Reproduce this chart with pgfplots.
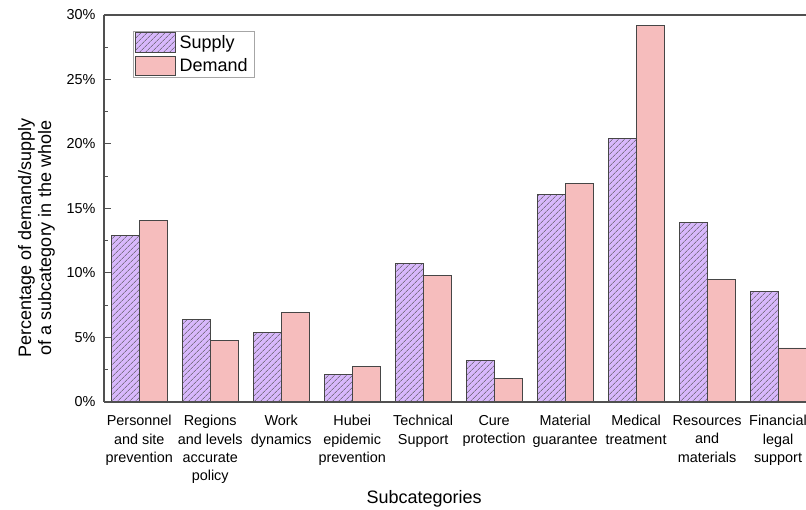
\documentclass[border=0pt]{standalone}
\usepackage{fontspec}
\setmainfont{Liberation Sans}
\usepackage{pgfplots}
\usepackage{pgfplotstable}
\pgfplotsset{compat=1.18}
\usetikzlibrary{patterns.meta}

\definecolor{supplyc}{RGB}{216,184,252}
\definecolor{demandc}{RGB}{246,189,189}
\definecolor{edgec}{RGB}{70,70,70}
\definecolor{axc}{RGB}{80,80,80}

\pgfplotsset{boxlegend/.style={
    legend image code/.code={\draw[##1] (0pt,-9.8pt) rectangle (39.4pt,9.8pt);}}}

% share (in %) of each subcategory
\pgfplotstableread{
x supply demand
0 12.9 14.1
1 6.43 4.78
2 5.37 6.92
3 2.12 2.76
4 10.75 9.79
5 3.22 1.83
6 16.12 16.92
7 20.43 29.17
8 13.95 9.48
9 8.57 4.19
}\subdata

\begin{document}
\begin{tikzpicture}
\begin{axis}[
    scale only axis,
    width=702pt, height=387pt,
    ybar=0pt, bar width=28pt,
    xmin=-0.497, xmax=9.394,
    ymin=0, ymax=30,
    axis on top,
    axis x line=box, axis y line=left,
    axis line style={-, draw=axc, line width=1.1pt},
    xtick={0,...,9},
    xticklabels={
        {Personnel\\and site\\prevention},
        {Regions\\and levels\\accurate\\policy},
        {Work\\dynamics},
        {Hubei\\epidemic\\prevention},
        {Technical\\Support},
        {Cure\\protection},
        {Material\\guarantee},
        {Medical\\treatment},
        {Resources\\and\\materials},
        {Financial\\legal\\support}},
    xtick style={draw=none},
    x tick label style={align=center, font=\fontsize{14.4}{18.3}\selectfont,
        anchor=north, yshift=-3pt},
    ytick={0,5,...,30},
    yticklabels={0\%,5\%,10\%,15\%,20\%,25\%,30\%},
    minor y tick num=1,
    ytick align=inside,
    major tick length=7pt, minor tick length=4pt,
    ytick style={draw=axc, line width=1pt},
    y tick label style={font=\fontsize{14.4}{17}\selectfont, xshift=-5pt},
    xlabel={Subcategories},
    x label style={at={(axis description cs:0.456,0)}, anchor=base,
        yshift=-102pt, font=\fontsize{18}{20}\selectfont},
    ylabel={Percentage of demand/supply\\of a subcategory in the whole},
    y label style={at={(axis description cs:-0.0962,0.4238)}, anchor=center,
        align=center, font=\fontsize{18}{20}\selectfont},
    legend style={
        at={(axis description cs:0.0417,0.9594)}, anchor=north west,
        draw=gray!70, fill=white,
        font=\fontsize{18}{20}\selectfont,
        inner xsep=2pt, inner ysep=1.5pt, row sep=2.7pt,
        nodes={inner xsep=4pt, inner ysep=1pt},
        cells={anchor=west}},
    legend cell align=left,
]
\addplot[fill=supplyc, draw=edgec, line width=0.8pt,
    postaction={pattern={Lines[angle=45,distance=4pt,line width=0.5pt]},
        pattern color=black!70},
    boxlegend]
    table[x=x, y=supply] {\subdata};
\addplot[fill=demandc, draw=edgec, line width=0.8pt, boxlegend]
    table[x=x, y=demand] {\subdata};
\legend{Supply, Demand}
\end{axis}
\pgfresetboundingbox
\path[use as bounding box] (-104pt,-108pt) rectangle (702pt,402pt);
\end{tikzpicture}
\end{document}
